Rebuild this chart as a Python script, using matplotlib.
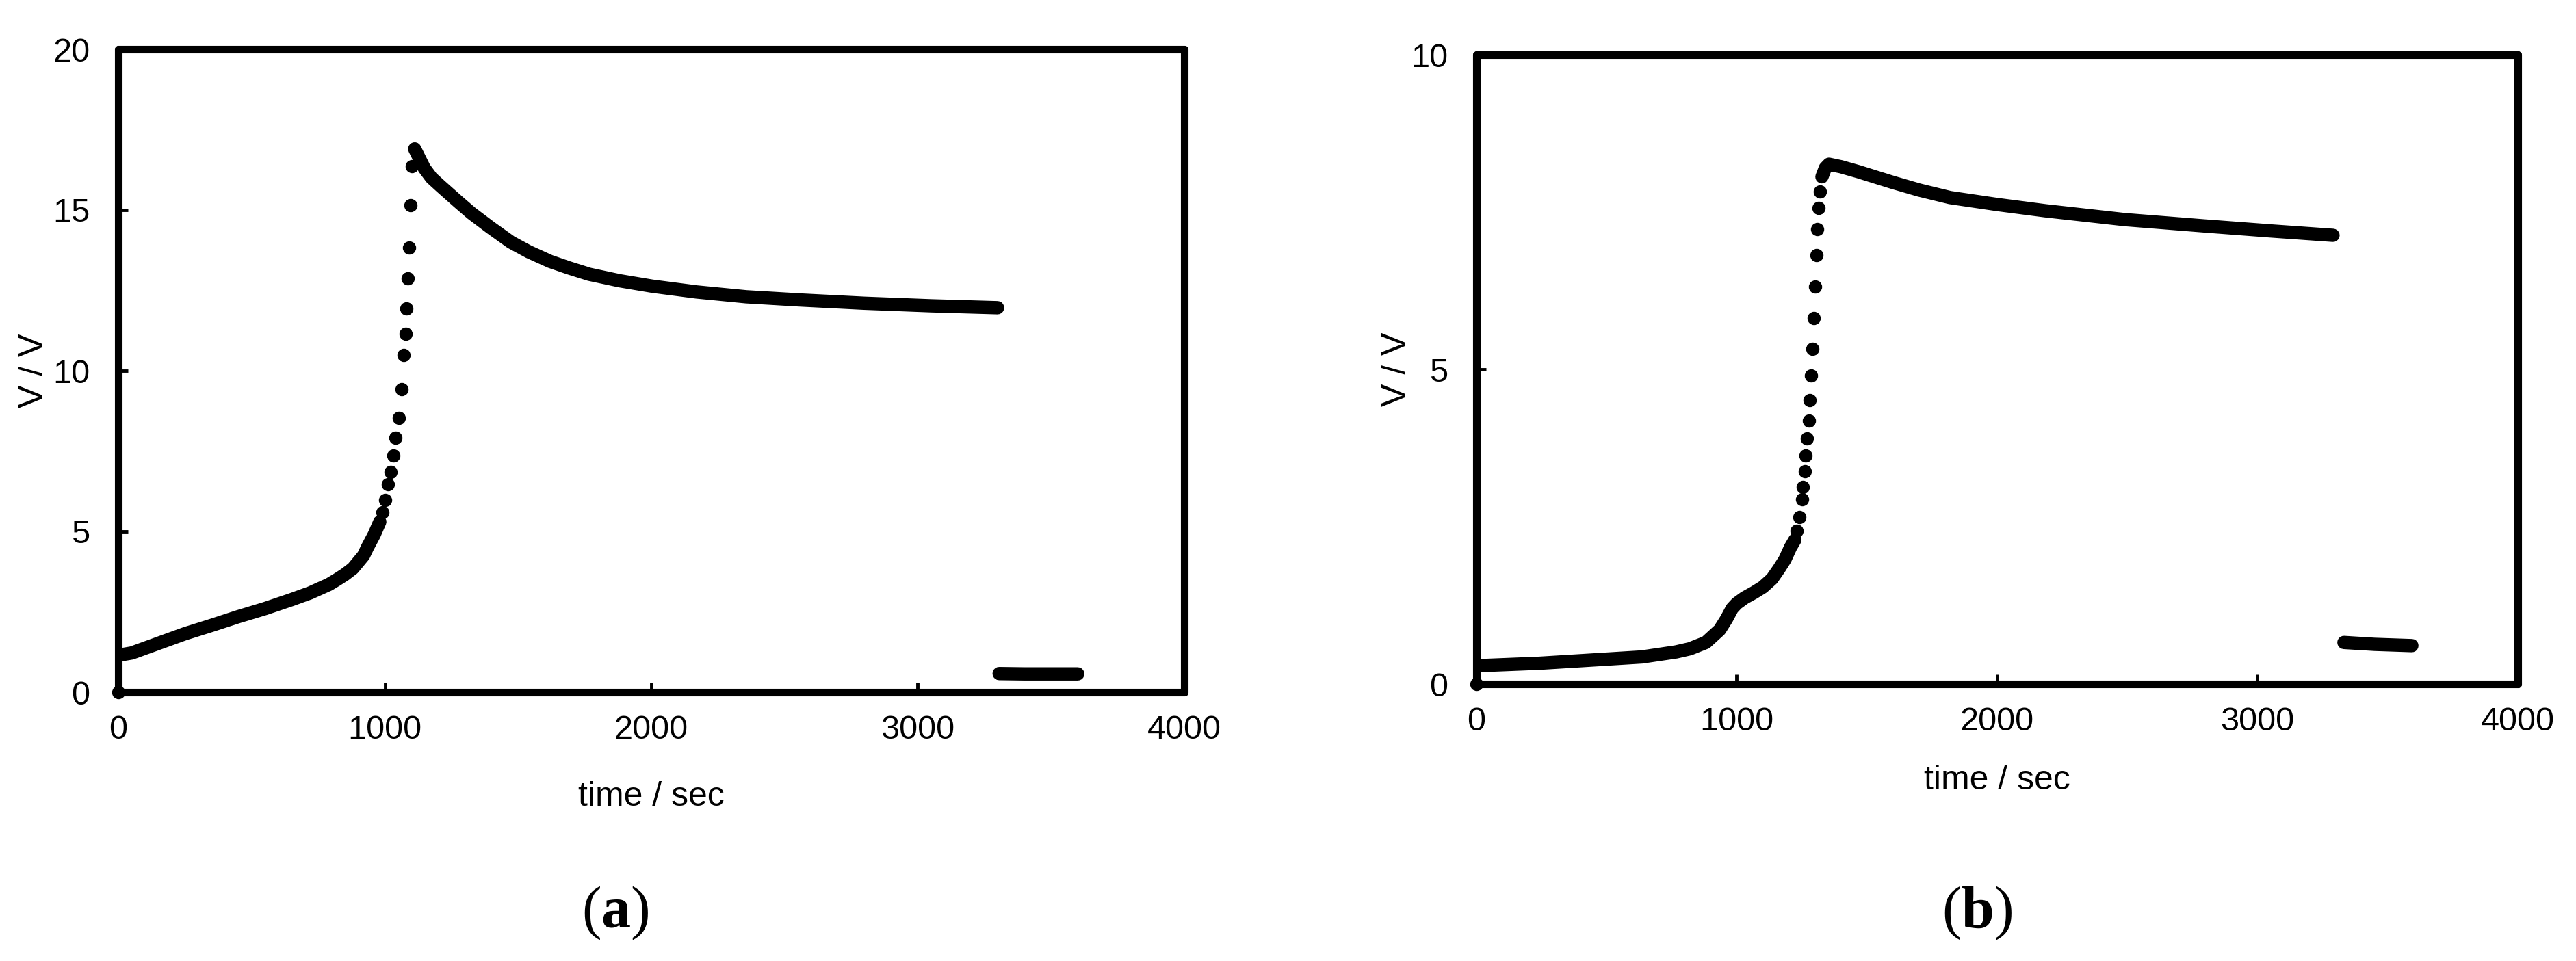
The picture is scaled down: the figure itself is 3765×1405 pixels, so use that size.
import matplotlib
matplotlib.use("Agg")
import matplotlib.pyplot as plt

plt.rcParams['font.family'] = ['Liberation Sans', 'DejaVu Sans']
plt.rcParams['mathtext.fontset'] = 'custom'
plt.rcParams['mathtext.rm'] = 'Liberation Serif'
plt.rcParams['mathtext.bf'] = 'Liberation Serif:bold'

# ---- panel (a) data ----
a_rise_t = [0, 50, 150, 250, 350, 450, 550, 650, 720, 790, 820, 850, 880, 900, 920, 935, 960, 981]
a_rise_v = [1.15, 1.22, 1.52, 1.82, 2.08, 2.35, 2.60, 2.88, 3.09, 3.35, 3.50, 3.66, 3.85, 4.05, 4.25,
            4.51, 4.90, 5.30]
a_jump_t = [991, 1002, 1011, 1021, 1033, 1041, 1052, 1063, 1071, 1078, 1081, 1086, 1091, 1096, 1101]
a_jump_v = [5.60, 5.98, 6.47, 6.85, 7.36, 7.91, 8.53, 9.43, 10.49, 11.15, 11.94, 12.87, 13.83, 15.15, 16.36]
a_decay_t = [1112, 1130, 1148, 1175, 1208, 1276, 1325, 1397, 1473, 1540, 1620, 1690, 1767, 1880,
             2003, 2170, 2356, 2560, 2798, 3050, 3299]
a_decay_v = [16.90, 16.60, 16.30, 16.00, 15.75, 15.25, 14.90, 14.45, 14.00, 13.70, 13.40, 13.20,
             13.00, 12.80, 12.63, 12.45, 12.30, 12.20, 12.10, 12.02, 11.96]
a_tail_t = [3305, 3400, 3500, 3600]
a_tail_v = [0.58, 0.57, 0.57, 0.57]

# ---- panel (b) data ----
b_rise_t = [0, 242, 400, 636, 767, 820, 881, 934, 960, 982, 1000, 1030, 1065, 1100, 1135, 1162,
            1185, 1206, 1223]
b_rise_v = [0.29, 0.33, 0.37, 0.43, 0.51, 0.56, 0.66, 0.86, 1.03, 1.20, 1.28, 1.37, 1.45, 1.54,
            1.67, 1.83, 1.98, 2.17, 2.29]
b_jump_t = [1230, 1241, 1251, 1254, 1261, 1265, 1269, 1276, 1280, 1286, 1290, 1295, 1300, 1305, 1310, 1315, 1320]
b_jump_v = [2.44, 2.65, 2.94, 3.13, 3.38, 3.63, 3.90, 4.19, 4.51, 4.90, 5.33, 5.81, 6.31, 6.81, 7.23, 7.57, 7.83]
b_decay_t = [1327, 1340, 1354, 1400, 1468, 1530, 1600, 1700, 1819, 2000, 2186, 2490, 2794, 3050, 3290]
b_decay_v = [8.06, 8.20, 8.26, 8.22, 8.14, 8.06, 7.97, 7.85, 7.73, 7.62, 7.52, 7.38, 7.28, 7.20, 7.13]
b_tail_t = [3332, 3450, 3593]
b_tail_v = [0.66, 0.63, 0.61]

x_ticks = [0, 1000, 2000, 3000, 4000]

MS = 14  # marker diameter in pt


def draw_panel(ax, rise, jump, decay, tail, ymax, yticks):
    # dense runs of points merge into a thick band
    for t, v in (rise, decay, tail):
        ax.plot(t, v, '-', color='black', lw=MS, solid_capstyle='round',
                solid_joinstyle='round')
    # sparse points during the jump
    ax.plot(jump[0], jump[1], 'o', color='black', ms=MS, mec='none')
    ax.plot([0], [0], 'o', color='black', ms=MS, mec='none', clip_on=False, zorder=3)

    ax.set_xlim(0, 4000)
    ax.set_ylim(0, ymax)
    ax.set_xticks(x_ticks)
    ax.set_yticks(yticks)
    for s in ax.spines.values():
        s.set_linewidth(8)
        s.set_capstyle('round')
    ax.tick_params(direction='in', length=10, width=3.5, labelsize=35,
                   top=False, right=False)
    ax.tick_params(axis='x', pad=24)
    ax.tick_params(axis='y', pad=30)
    ax.set_xlabel('time / sec', fontsize=36)
    ax.set_ylabel('V / V', fontsize=36)
    ax.xaxis.label.set_va('center')
    ax.yaxis.label.set_va('center')


fig = plt.figure(figsize=(37.66, 14.05), dpi=100)
W, H = 3766, 1405

ax1 = fig.add_axes([173 / W, 1 - 1012 / H, (1731 - 173) / W, (1012 - 72) / H])
draw_panel(ax1, (a_rise_t, a_rise_v), (a_jump_t, a_jump_v),
           (a_decay_t, a_decay_v), (a_tail_t, a_tail_v), 20, [0, 5, 10, 15, 20])
ax1.xaxis.set_label_coords(0.5, -0.163)
ax1.yaxis.set_label_coords(-0.079, 0.5)

ax2 = fig.add_axes([2158 / W, 1 - 1000 / H, (3680 - 2158) / W, (1000 - 80) / H])
draw_panel(ax2, (b_rise_t, b_rise_v), (b_jump_t, b_jump_v),
           (b_decay_t, b_decay_v), (b_tail_t, b_tail_v), 10, [0, 5, 10])
ax2.xaxis.set_label_coords(0.5, -0.153)
ax2.yaxis.set_label_coords(-0.076, 0.5)

fig.text(899 / W, 1 - 1335 / H, r'($\mathbf{a}$)', family='Liberation Serif',
         fontsize=62, ha='center', va='center')
fig.text(2890 / W, 1 - 1335 / H, r'($\mathbf{b}$)', family='Liberation Serif',
         fontsize=62, ha='center', va='center')

fig.savefig('out.png', dpi=100)
